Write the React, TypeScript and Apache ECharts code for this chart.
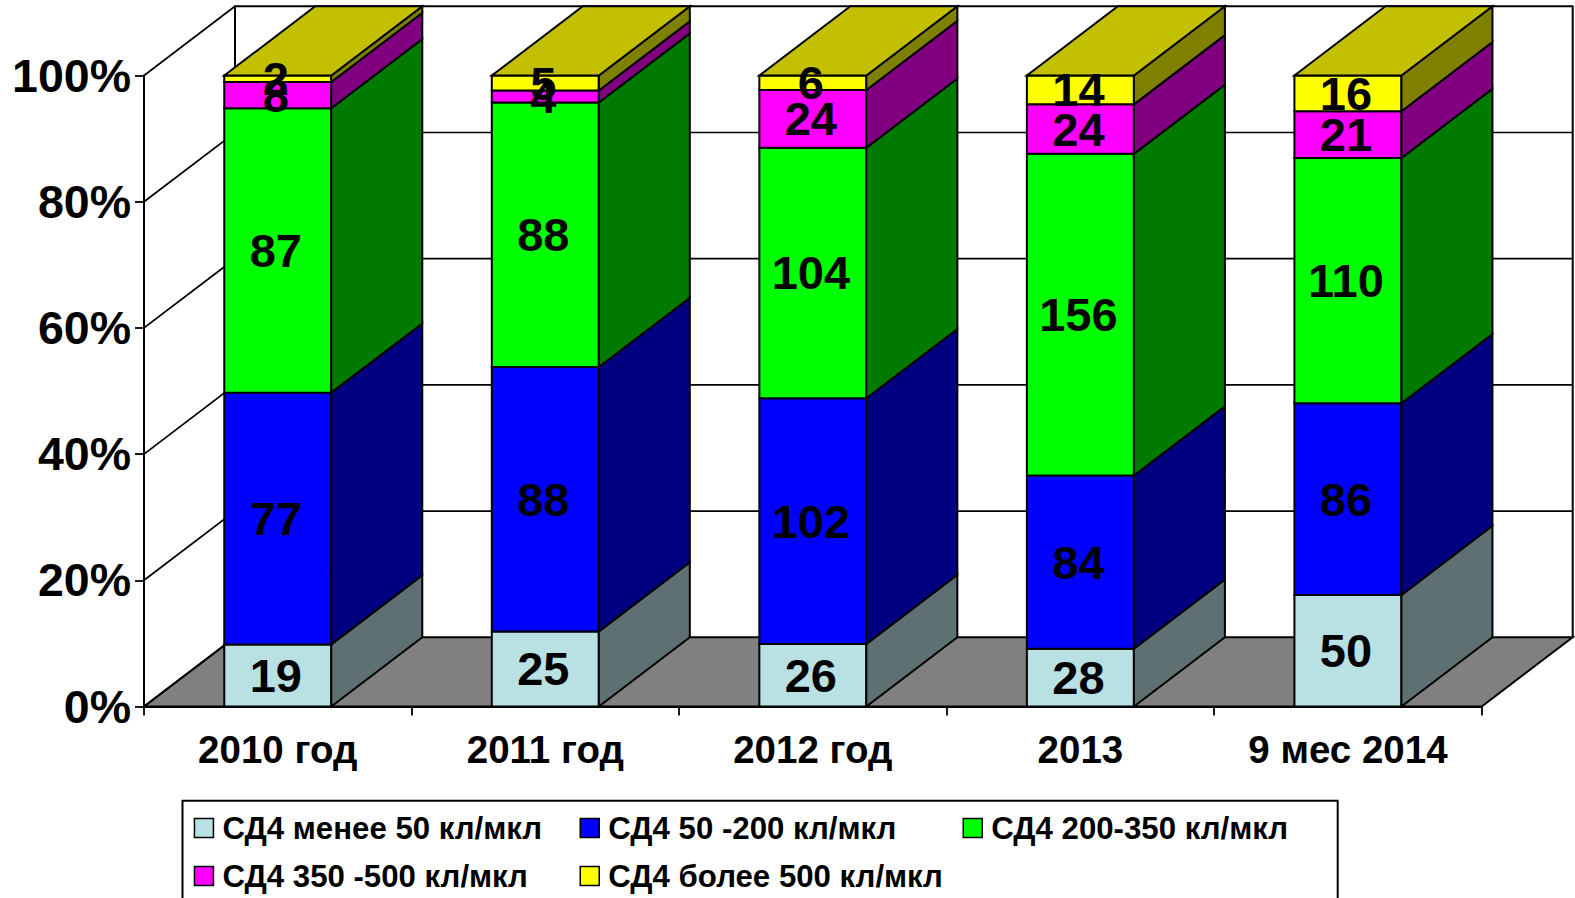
import React, { useEffect, useRef } from "react";
import * as echarts from "echarts";

const categories = ["2010 год", "2011 год", "2012 год", "2013", "9 мес 2014"];
const seriesNames = [
  "СД4 менее 50 кл/мкл",
  "СД4 50 -200 кл/мкл",
  "СД4 200-350 кл/мкл",
  "СД4 350 -500 кл/мкл",
  "СД4 более 500 кл/мкл",
];
const below50 = [19, 25, 26, 28, 50];
const from50to200 = [77, 88, 102, 84, 86];
const from200to350 = [87, 88, 104, 156, 110];
const from350to500 = [8, 4, 24, 24, 21];
const above500 = [2, 5, 6, 14, 16];
const yTicks = [0, 20, 40, 60, 80, 100];

const allCounts = [below50, from50to200, from200to350, from350to500, above500];
const frontColors = ["#B9E0E3", "#0000FF", "#00FF00", "#FF00FF", "#FFFF00"];
const sideColors = ["#5F7072", "#000080", "#007A00", "#800080", "#808000"];
const topColor = "#C2C000";

const DX = 91;
const DY = -69.2;
const FONT = "Liberation Sans";
const LEFT = 144;
const TOP = 75.5;
const W = 1337.7;
const H = 631;
const BAR_RATIO = 0.4;

function stackRows(s: number) {
  return categories.map((_, c) => {
    const total = allCounts.reduce((a, arr) => a + arr[c], 0);
    let before = 0;
    for (let k = 0; k < s; k++) before += allCounts[k][c];
    return [c, (before / total) * 100, ((before + allCounts[s][c]) / total) * 100, allCounts[s][c]];
  });
}

function wallRender(params: any, api: any) {
  const cs = params.coordSys;
  const x0 = cs.x;
  const x1 = cs.x + cs.width;
  const yb = cs.y + cs.height;
  const stroke = { stroke: "#000", lineWidth: 1.7, fill: "none" };
  const children: any[] = [
    {
      type: "polygon",
      shape: { points: [[x0, yb], [x1, yb], [x1 + DX, yb + DY], [x0 + DX, yb + DY]] },
      style: { fill: "#808080", stroke: "#000", lineWidth: 2 },
    },
  ];
  const yTop = api.coord([0, 100])[1];
  children.push({
    type: "polyline",
    shape: { points: [[x0 + DX, yb + DY], [x0 + DX, yTop + DY], [x1 + DX, yTop + DY], [x1 + DX, yb + DY]] },
    style: { ...stroke, lineWidth: 2 },
  });
  yTicks.forEach((t) => {
    const y = api.coord([0, t])[1];
    children.push({
      type: "polyline",
      shape: {
        points:
          t === 0 || t === 100
            ? [[x0, y], [x0 + DX, y + DY]]
            : [[x0, y], [x0 + DX, y + DY], [x1 + DX, y + DY]],
      },
      style: stroke,
    });
  });
  return { type: "group", children };
}

function barRender(seriesIndex: number) {
  return (params: any, api: any) => {
    const c = api.value(0);
    const a = api.coord([c, api.value(1)]);
    const b = api.coord([c, api.value(2)]);
    const w = api.size([1, 0])[0] * BAR_RATIO;
    const l = a[0] - w / 2;
    const r = a[0] + w / 2;
    const line = { stroke: "#000", lineWidth: 2, lineJoin: "miter" };
    const children: any[] = [
      {
        type: "polygon",
        shape: { points: [[l, b[1]], [r, b[1]], [r, a[1]], [l, a[1]]] },
        style: { fill: frontColors[seriesIndex], ...line },
      },
      {
        type: "polygon",
        shape: { points: [[r, b[1]], [r + DX, b[1] + DY], [r + DX, a[1] + DY], [r, a[1]]] },
        style: { fill: sideColors[seriesIndex], ...line },
      },
    ];
    if (seriesIndex === allCounts.length - 1) {
      children.push({
        type: "polygon",
        shape: { points: [[l, b[1]], [l + DX, b[1] + DY], [r + DX, b[1] + DY], [r, b[1]]] },
        style: { fill: topColor, ...line },
      });
    }
    children.push({
      type: "text",
      x: a[0] - 2,
      y: (a[1] + b[1]) / 2,
      z2: 100,
      style: {
        text: String(api.value(3)),
        fill: "#000",
        fontFamily: FONT,
        fontWeight: "bold",
        fontSize: 47,
        align: "center",
        verticalAlign: "middle",
      },
    });
    return { type: "group", children };
  };
}

const legendPos = [
  { left: 193.7, top: 812.5 },
  { left: 579.5, top: 812.5 },
  { left: 962.5, top: 812.5 },
  { left: 193.7, top: 860.5 },
  { left: 579.5, top: 860.5 },
];

export default function App() {
  const ref = useRef<HTMLDivElement>(null);
  useEffect(() => {
    document.body.style.margin = "0";
    const chart = echarts.init(ref.current!, undefined, { renderer: "svg" });
    chart.setOption({
      animation: false,
      backgroundColor: "#fff",
      grid: { left: LEFT, top: TOP, width: W, height: H, containLabel: false },
      xAxis: {
        type: "category",
        data: categories,
        z: 10,
        axisLine: { lineStyle: { color: "#000", width: 2 } },
        axisTick: { show: true, length: 9, lineStyle: { color: "#000", width: 1.8 } },
        axisLabel: { color: "#000", fontFamily: FONT, fontWeight: "bold", fontSize: 38.5, margin: 23, interval: 0 },
      },
      yAxis: {
        type: "value",
        min: 0,
        max: 100,
        interval: 20,
        z: 10,
        axisLine: { show: true, lineStyle: { color: "#000", width: 2 } },
        axisTick: { show: true, length: 9, lineStyle: { color: "#000", width: 1.8 } },
        splitLine: { show: false },
        axisLabel: {
          color: "#000",
          fontFamily: FONT,
          fontWeight: "bold",
          fontSize: 46.5,
          margin: 13,
          formatter: "{value}%",
        },
      },
      legend: seriesNames.map((n, i) => ({
        data: [{ name: n, icon: "rect", itemStyle: { color: frontColors[i], borderColor: "#000", borderWidth: 1.5 } }],
        left: legendPos[i].left,
        top: legendPos[i].top,
        padding: 0,
        itemWidth: 19,
        itemHeight: 19,
        selectedMode: false,
        textStyle: {
          color: "#000",
          fontFamily: FONT,
          fontWeight: "bold",
          fontSize: 31.2,
          padding: [2, 0, 0, 4],
        },
      })),
      graphic: [
        {
          type: "rect",
          z: -1,
          silent: true,
          shape: { x: 182.5, y: 800.7, width: 1155.2, height: 120 },
          style: { fill: "#fff", stroke: "#000", lineWidth: 2 },
        },
      ],
      series: [
        {
          type: "custom",
          name: "wall",
          z: 1,
          silent: true,
          renderItem: wallRender,
          data: [[0, 0]],
          encode: { x: 0, y: 1 },
        },
        ...seriesNames.map((n, s) => ({
          type: "custom",
          name: n,
          z: 2,
          silent: true,
          renderItem: barRender(s),
          itemStyle: { color: frontColors[s] },
          data: stackRows(s),
          encode: { x: 0, y: [1, 2] },
        })),
      ],
    });
    return () => chart.dispose();
  }, []);
  return <div ref={ref} style={{ position: "absolute", left: 0, top: 0, width: 1575, height: 898, overflow: "hidden" }} />;
}
